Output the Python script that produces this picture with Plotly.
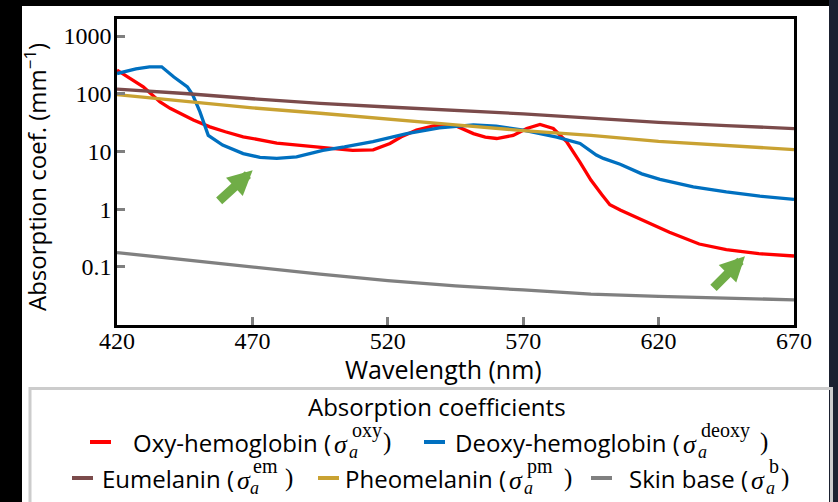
import plotly.graph_objects as go
import math

# ---------------- data ----------------
oxy_wl = [420, 424.8, 429.7, 435.9, 439.6, 448.2, 454.3, 460, 466.6, 479, 491, 500, 507, 514.6,
          520.8, 525, 530.6, 538, 545.4, 551.6, 556, 560.2, 566.3, 571.3, 576.2, 581.1, 586,
          591, 595, 599, 602, 606, 614, 624, 635, 645, 657, 670]
oxy_val = [257, 183, 132, 72, 56, 35, 26.7, 22, 18, 14, 12.4, 11.3, 10.5, 10.7,
           13.8, 18, 23.4, 28.6, 27.5, 20.4, 17.8, 16.8, 19, 25, 29.5, 25, 14.8,
           6.5, 3.2, 1.8, 1.2, 0.96, 0.65, 0.40, 0.25, 0.20, 0.17, 0.155]

deoxy_wl = [420, 427, 432, 436.5, 441, 446, 448, 450.6, 453.7, 459, 466.6, 472.8, 479, 486.3,
            496, 504, 514.5, 527, 539, 551.6, 560, 570, 582.4, 588.5, 591, 597, 599.6,
            605.8, 613.8, 620.5, 632.8, 645, 657.4, 670]
deoxy_val = [224, 270, 293, 293, 195, 132, 95, 49, 19, 12.9, 9.2, 7.9, 7.6, 8.1,
             10.5, 12, 14.8, 20.4, 25.7, 28.8, 27.5, 23.4, 17.8, 14.8, 13.8, 8.7, 7.6,
             6.0, 4.1, 3.3, 2.45, 2.0, 1.68, 1.48]

mel_wl = [420, 445, 470, 495, 520, 545, 570, 595, 620, 645, 670]
eumelanin_val = [120, 101, 82, 68, 59, 52, 45, 38, 32, 28, 25]
pheomelanin_val = [97, 74, 57, 46, 37, 29, 23, 19, 15, 12.6, 10.8]
skin_base_val = [0.178, 0.133, 0.098, 0.075, 0.058, 0.047, 0.040, 0.034, 0.031, 0.0285, 0.027]

x_ticks = [420, 470, 520, 570, 620, 670]
y_ticks = [0.1, 1, 10, 100, 1000]
y_ticktext = ["0.1", "1", "10", "100", "1000"]

# legend entries: name, superscript label, colour
names = ["Oxy-hemoglobin (", "Deoxy-hemoglobin (", "Eumelanin (", "Pheomelanin (", "Skin base ("]
sup_labels = ["oxy", "deoxy", "em", "pm", "b"]
colors = ["#ff0000", "#0070c0", "#7b4b4b", "#c9a232", "#808080"]

# ---------------- layout geometry (pixels) ----------------
W, H = 838, 502
L, R, T, B = 117, 794, 19, 325
PW, PH = R - L, B - T


def px(x):
    return (x - L) / PW


def py(y):
    return (B - y) / PH


fig = go.Figure()
series = [(oxy_wl, oxy_val), (deoxy_wl, deoxy_val), (mel_wl, eumelanin_val),
          (mel_wl, pheomelanin_val), (mel_wl, skin_base_val)]
for (wl, vals), c, n in zip(series, colors, names):
    fig.add_trace(go.Scatter(x=wl, y=vals, mode="lines", line=dict(color=c, width=3.3),
                             name=n, showlegend=False, hoverinfo="skip"))

shapes = []
# page background pieces
shapes.append(dict(type="rect", xref="paper", yref="paper", x0=px(22), x1=px(829), y0=py(510), y1=py(6),
                   fillcolor="white", line=dict(width=0), layer="below"))
shapes.append(dict(type="rect", xref="paper", yref="paper", x0=px(829), x1=px(845), y0=py(510), y1=py(-5),
                   fillcolor="#1b2130", line=dict(width=0), layer="below"))
# legend box
shapes.append(dict(type="rect", xref="paper", yref="paper", x0=px(30), x1=px(831.5), y0=py(510), y1=py(388.5),
                   fillcolor="rgba(0,0,0,0)", line=dict(color="#cccccc", width=3)))

annotations = []
SANS = "Open Sans"
SERIF = "Liberation Serif"

# axis titles
annotations.append(dict(text="Wavelength (nm)", x=px(443), y=py(369), xref="paper", yref="paper",
                        showarrow=False, xanchor="center", yanchor="middle",
                        font=dict(family=SANS, size=25, color="black")))
annotations.append(dict(text="Absorption coef. (mm<sup>−1</sup>)", x=px(36), y=py(177), xref="paper", yref="paper",
                        showarrow=False, xanchor="center", yanchor="middle", textangle=-90,
                        font=dict(family=SANS, size=24, color="black")))
# legend title
annotations.append(dict(text="Absorption coefficients", x=px(437), y=py(406), xref="paper", yref="paper",
                        showarrow=False, xanchor="center", yanchor="middle",
                        font=dict(family=SANS, size=24, color="black")))

# legend rows (pixel positions)
row_y = [442, 442, 478, 478, 478]
sample_x = [90, 424, 72, 318, 591]
sigma_x = [333, 682, 236, 508, 750]
script_x = [350, 699, 251, 525, 767]
close_x = [381, 758, 283, 562, 779]

for i in range(5):
    yy = row_y[i]
    shapes.append(dict(type="line", xref="paper", yref="paper", x0=px(sample_x[i]), x1=px(sample_x[i] + 21),
                       y0=py(yy), y1=py(yy), line=dict(color=colors[i], width=4)))
    annotations.append(dict(text=names[i], x=px(sigma_x[i]), y=py(yy), xref="paper", yref="paper",
                            showarrow=False, xanchor="right", yanchor="middle",
                            font=dict(family=SANS, size=24, color="black")))
    annotations.append(dict(text="<i>σ</i>", x=px(sigma_x[i] - 1), y=py(yy + 2), xref="paper", yref="paper",
                            showarrow=False, xanchor="left", yanchor="middle",
                            font=dict(family=SERIF, size=26, color="black")))
    annotations.append(dict(text="<i>a</i>", x=px(script_x[i] - 3), y=py(yy + 10), xref="paper", yref="paper",
                            showarrow=False, xanchor="left", yanchor="middle",
                            font=dict(family=SERIF, size=18, color="black")))
    annotations.append(dict(text=sup_labels[i], x=px(script_x[i]), y=py(yy - 12), xref="paper", yref="paper",
                            showarrow=False, xanchor="left", yanchor="middle",
                            font=dict(family=SERIF, size=20, color="black")))
    annotations.append(dict(text=")", x=px(close_x[i]), y=py(yy), xref="paper", yref="paper",
                            showarrow=False, xanchor="left", yanchor="middle",
                            font=dict(family=SERIF, size=25, color="black")))

# green arrows (tip in data coords, tail offset in px)
for tip_x, tip_y, ax, ay in [(470.1, 4.74, -35, 32), (651.9, 0.153, -33, 33)]:
    annotations.append(dict(text="", x=tip_x, y=math.log10(tip_y), xref="x", yref="y",
                            showarrow=True, ax=ax, ay=ay, arrowhead=2, arrowsize=0.55,
                            arrowwidth=9, arrowcolor="#70ad47", standoff=0))

fig.update_layout(
    width=W, height=H,
    margin=dict(l=L, r=W - R, t=T, b=H - B, pad=0),
    paper_bgcolor="black", plot_bgcolor="white",
    shapes=shapes, annotations=annotations,
    showlegend=False,
    xaxis=dict(range=[420, 670], tickvals=x_ticks, ticktext=[str(v) for v in x_ticks],
               ticks="inside", ticklen=8, tickwidth=3, tickcolor="#7f7f7f",
               showline=True, linecolor="black", linewidth=2.5, mirror=True,
               showgrid=False, zeroline=False, ticklabelstandoff=-8,
               tickfont=dict(family=SERIF, size=24, color="black")),
    yaxis=dict(type="log", range=[-2.005, 3.295], tickvals=y_ticks, ticktext=y_ticktext,
               ticks="inside", ticklen=8, tickwidth=3, tickcolor="#7f7f7f",
               showline=True, linecolor="black", linewidth=2.5, mirror=True,
               showgrid=False, zeroline=False, ticklabelstandoff=-2,
               tickfont=dict(family=SERIF, size=24, color="black")),
)

fig.write_html("out.html")
